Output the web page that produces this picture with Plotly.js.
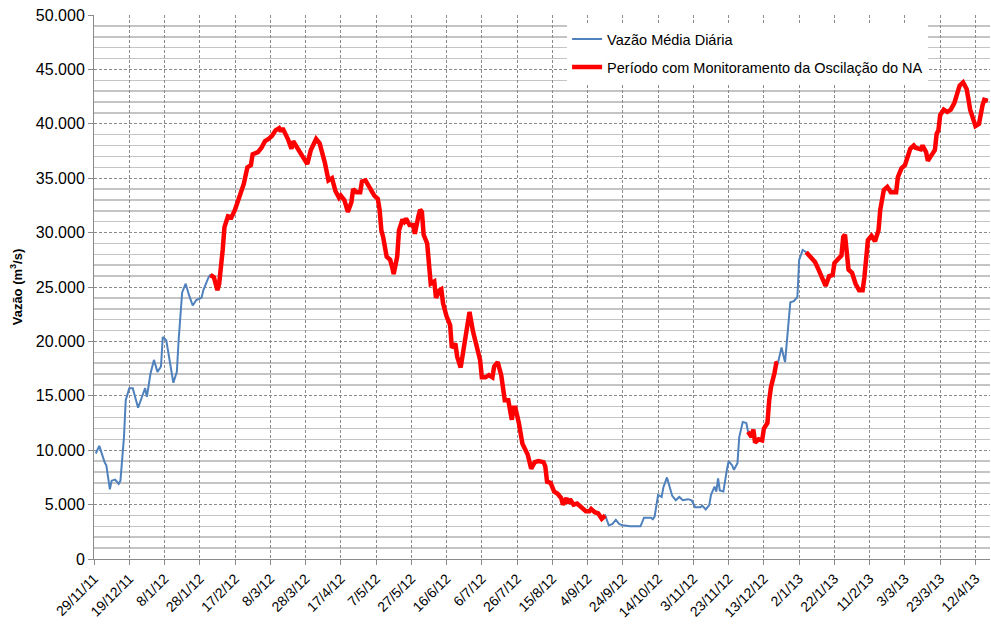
<!DOCTYPE html>
<html>
<head>
<meta charset="utf-8">
<script src="https://cdn.plot.ly/plotly-3.0.1.min.js"></script>
<style>html,body{margin:0;padding:0;background:#fff;}#chart{width:991px;height:625px;}</style>
</head>
<body>
<div id="chart"></div>
<script>
const dates = [
"2011-11-30","2011-12-02","2011-12-05","2011-12-06","2011-12-08","2011-12-09","2011-12-11","2011-12-13","2011-12-14","2011-12-16",
"2011-12-17","2011-12-19","2011-12-21","2011-12-24","2011-12-26","2011-12-28","2011-12-29","2011-12-31","2012-01-02","2012-01-04",
"2012-01-06","2012-01-07","2012-01-09","2012-01-11","2012-01-13","2012-01-15","2012-01-16","2012-01-18","2012-01-20","2012-01-22",
"2012-01-24","2012-01-26","2012-01-29","2012-01-30","2012-02-02","2012-02-03","2012-02-05","2012-02-07","2012-02-08","2012-02-10",
"2012-02-11","2012-02-13","2012-02-15","2012-02-17","2012-02-20","2012-02-22","2012-02-24","2012-02-26","2012-02-27","2012-03-01",
"2012-03-03","2012-03-05","2012-03-07","2012-03-09","2012-03-11","2012-03-13","2012-03-14","2012-03-15","2012-03-18","2012-03-20",
"2012-03-21","2012-03-23","2012-03-24","2012-03-26","2012-03-29","2012-03-31","2012-04-03","2012-04-05","2012-04-08","2012-04-10",
"2012-04-12","2012-04-14","2012-04-16","2012-04-17","2012-04-19","2012-04-21","2012-04-23","2012-04-24","2012-04-26","2012-04-28",
"2012-04-29","2012-05-01","2012-05-04","2012-05-06","2012-05-08","2012-05-09","2012-05-10","2012-05-11","2012-05-13","2012-05-15",
"2012-05-16","2012-05-17","2012-05-19","2012-05-20","2012-05-22","2012-05-23","2012-05-24","2012-05-26","2012-05-28","2012-05-29",
"2012-05-31","2012-06-01","2012-06-02","2012-06-03","2012-06-05","2012-06-06","2012-06-07","2012-06-09","2012-06-10","2012-06-12",
"2012-06-13","2012-06-14","2012-06-16","2012-06-18","2012-06-19","2012-06-21","2012-06-22","2012-06-24","2012-06-25","2012-06-27",
"2012-06-29","2012-07-01","2012-07-03","2012-07-05","2012-07-06","2012-07-08","2012-07-10","2012-07-12","2012-07-13","2012-07-15",
"2012-07-17","2012-07-19","2012-07-21","2012-07-23","2012-07-24","2012-07-25","2012-07-27","2012-07-29","2012-08-01","2012-08-03",
"2012-08-05","2012-08-07","2012-08-10","2012-08-11","2012-08-12","2012-08-14","2012-08-16","2012-08-18","2012-08-20","2012-08-21",
"2012-08-23","2012-08-24","2012-08-25","2012-08-27","2012-08-29","2012-08-31","2012-09-03","2012-09-05","2012-09-06","2012-09-08",
"2012-09-10","2012-09-12","2012-09-14","2012-09-16","2012-09-18","2012-09-20","2012-09-22","2012-09-24","2012-09-28","2012-10-04",
"2012-10-06","2012-10-10","2012-10-11","2012-10-12","2012-10-13","2012-10-14","2012-10-16","2012-10-17","2012-10-19","2012-10-21",
"2012-10-22","2012-10-24","2012-10-26","2012-10-28","2012-10-31","2012-11-02","2012-11-04","2012-11-07","2012-11-08","2012-11-10",
"2012-11-12","2012-11-13","2012-11-15","2012-11-16","2012-11-17","2012-11-18","2012-11-20","2012-11-22","2012-11-23","2012-11-25",
"2012-11-26","2012-11-28","2012-11-29","2012-12-01","2012-12-03","2012-12-04","2012-12-06","2012-12-07","2012-12-08","2012-12-10",
"2012-12-12","2012-12-13","2012-12-15","2012-12-16","2012-12-17","2012-12-19","2012-12-20","2012-12-21","2012-12-23","2012-12-24",
"2012-12-25","2012-12-27","2012-12-28","2012-12-30","2013-01-01","2013-01-02","2013-01-04","2013-01-06","2013-01-09","2013-01-11",
"2013-01-13","2013-01-15","2013-01-17","2013-01-19","2013-01-21","2013-01-22","2013-01-24","2013-01-26","2013-01-27","2013-01-28",
"2013-01-29","2013-01-30","2013-02-01","2013-02-03","2013-02-05","2013-02-07","2013-02-08","2013-02-10","2013-02-12","2013-02-14",
"2013-02-16","2013-02-17","2013-02-19","2013-02-21","2013-02-23","2013-02-26","2013-02-27","2013-03-01","2013-03-03","2013-03-04",
"2013-03-06","2013-03-08","2013-03-09","2013-03-12","2013-03-13","2013-03-15","2013-03-16","2013-03-18","2013-03-20","2013-03-21",
"2013-03-22","2013-03-23","2013-03-25","2013-03-27","2013-03-29","2013-03-31","2013-04-02","2013-04-03","2013-04-05","2013-04-07",
"2013-04-08","2013-04-09","2013-04-11","2013-04-12","2013-04-14","2013-04-15","2013-04-16","2013-04-17","2013-04-19"
];
const vazao = [
9700,10400,8900,8600,6400,7200,7300,6900,7200,11200,
14600,15700,15700,13900,14800,15700,14900,17000,18300,17200,
17700,20400,20100,18300,16200,17200,20100,24500,25300,24200,
23300,23800,24000,24700,25900,26100,25900,24700,25300,28400,
30500,31500,31400,32100,33400,34500,36000,36200,37200,37400,
37800,38400,38600,38900,39400,39600,39300,39600,38600,37700,
38400,37900,37600,37000,36300,37600,38600,38200,36400,34800,
35000,33800,33200,33400,33000,31900,32800,34000,33700,33700,
34700,34800,34000,33400,33100,32100,30200,29600,27800,27500,
26900,26200,27800,30200,31200,31000,31300,30700,30700,29900,
31500,32100,31900,29800,29000,27200,25300,25500,24000,24700,
24800,23500,22300,21500,19400,19800,18600,17600,18600,21000,
22700,20900,19500,18300,16700,16700,16900,16700,17700,18100,
16900,14600,14600,12800,13900,13900,12500,10600,9600,8300,
8900,9000,8900,8500,7100,7000,6200,6000,5600,5000,
5600,5100,5500,5000,5100,4800,4400,4400,4600,4300,
4200,3700,4000,3100,3200,3600,3200,3100,3000,3000,
3800,3800,3650,3900,4800,5900,5700,6600,7500,6400,
5800,5400,5700,5400,5500,5400,4750,4750,4900,4550,
4950,5900,6650,6200,7400,6300,6200,8200,9000,8600,
8200,8800,11200,12600,12500,11700,11200,11900,10700,11000,
10900,12000,12500,14600,15800,17100,18000,18050,19450,18750,
18100,21800,23600,23700,24100,27500,28400,28200,27600,27300,
26600,25800,25100,26000,26100,27200,27500,27900,29600,29800,
28200,26600,26300,25300,24700,24700,25900,29300,29700,29200,
30200,32100,33900,34200,33700,33700,35100,35900,36200,36800,
37700,38000,37800,37650,38000,37400,36600,37100,37600,39100,
39400,40800,41300,41100,41300,41900,42800,43500,43800,43200,
42300,41300,40300,39800,40000,41000,41700,42200,42100
];
const monitorStart = ["2012-02-03", "2012-12-04", "2013-01-06"];
const monitorEnd   = ["2012-09-14", "2012-12-21", "2013-04-19"];
const seriesNames = ["Vazão Média Diária", "Período com Monitoramento da Oscilação do NA"];
const yAxisTitle = "Vazão (m<sup>3</sup>/s)";

const inMonitor = d => monitorStart.some((s, k) => d >= s && d <= monitorEnd[k]);
const monitorY = vazao.map((v, i) => inMonitor(dates[i]) ? v : null);

const font = "'Liberation Sans', Arial, sans-serif";
const traces = [
  {x: dates, y: vazao, type: "scatter", mode: "lines", name: seriesNames[0],
   line: {color: "#4F81BD", width: 2}, legendgroup: "a"},
  {x: dates, y: monitorY, type: "scatter", mode: "lines", name: seriesNames[1],
   line: {color: "#FF0000", width: 4.5}, connectgaps: false, legendgroup: "b"}
];
const layout = {
  width: 991, height: 625,
  margin: {l: 94, r: 1, t: 15, b: 66},
  paper_bgcolor: "#fff", plot_bgcolor: "#fff",
  separators: ",.",
  font: {family: font, color: "#000", size: 13},
  showlegend: true,
  legend: {x: 0.528, y: 0.985, xanchor: "left", yanchor: "top", bgcolor: "#fff",
           borderwidth: 0, font: {size: 14.5, family: font}, tracegroupgap: 6,
           traceorder: "grouped"},
  xaxis: {
    type: "date", range: ["2011-11-29", "2013-04-20 06:00"],
    tick0: "2011-11-29", dtick: 20 * 86400000, tickformat: "%-d/%-m/%y",
    tickangle: -45, tickfont: {size: 14},
    showgrid: true, gridcolor: "#8a8a8a", griddash: "3px,2px", gridwidth: 1,
    showline: true, linecolor: "#8a8a8a", linewidth: 1,
    ticks: "outside", ticklen: 5, tickcolor: "#8a8a8a", zeroline: false
  },
  yaxis: {
    range: [0, 50000], dtick: 5000, tick0: 0, tickformat: ",d",
    tickfont: {size: 16},
    showgrid: true, gridcolor: "#8a8a8a", griddash: "3px,2px", gridwidth: 1,
    minor: {dtick: 1000, showgrid: true, gridcolor: "#c4c4c4", gridwidth: 1.5, griddash: "solid"},
    showline: true, linecolor: "#8a8a8a", linewidth: 1,
    ticks: "outside", ticklen: 5, tickcolor: "#8a8a8a", zeroline: false,
    title: {text: "<b>" + yAxisTitle + "</b>", font: {size: 13, family: font}, standoff: 10}
  }
};
Plotly.newPlot("chart", traces, layout, {staticPlot: true, displayModeBar: false});
</script>
</body>
</html>
